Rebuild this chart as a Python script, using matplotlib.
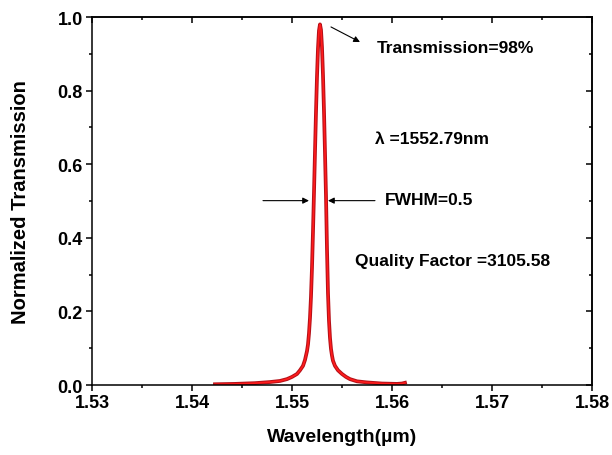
import numpy as np
import matplotlib
matplotlib.use('Agg')
import matplotlib.pyplot as plt
from matplotlib.ticker import MultipleLocator, FormatStrFormatter

plt.rcParams['font.family'] = ['Liberation Sans', 'DejaVu Sans']
plt.rcParams['font.weight'] = 'bold'

# transmission spectrum of the resonator (wavelength in um)
wavelength = [1.5423, 1.5443, 1.5463, 1.5478, 1.5488, 1.5495, 1.5500, 1.5505,
              1.5508, 1.5511, 1.5513, 1.5515, 1.5516, 1.5517, 1.5518, 1.5519,
              1.5520, 1.5521, 1.5522, 1.5523, 1.5524, 1.5525, 1.5526, 1.5527,
              1.5528, 1.5529, 1.5530, 1.5531, 1.5532, 1.5533, 1.5534, 1.5535,
              1.5536, 1.5537, 1.5538, 1.5539, 1.5540, 1.5541, 1.5543, 1.5546,
              1.5550, 1.5554, 1.5558, 1.5565, 1.5575, 1.5590, 1.5605, 1.5610,
              1.5613]
transmission = [0.002, 0.003, 0.005, 0.008, 0.011, 0.016, 0.022, 0.030,
                0.040, 0.052, 0.068, 0.092, 0.110, 0.140, 0.182, 0.240,
                0.318, 0.416, 0.522, 0.633, 0.741, 0.837, 0.914, 0.963,
                0.980, 0.965, 0.918, 0.842, 0.745, 0.632, 0.515, 0.370,
                0.250, 0.175, 0.128, 0.098, 0.080, 0.066, 0.052, 0.040,
                0.030, 0.022, 0.016, 0.010, 0.007, 0.004, 0.003, 0.004,
                0.006]

peak_wl_nm = 1552.79
peak_T = 0.98
fwhm_nm = 0.5
q_factor = 3105.58

fig = plt.figure(figsize=[6.12, 4.56], dpi=100)
ax = fig.add_axes([0.1503, 0.1535, 0.817, 0.807])

ax.plot(wavelength, transmission, color='#b51018', lw=2.7, solid_joinstyle='round')
ax.plot(wavelength, transmission, color='#ff1c1c', lw=1.2, solid_joinstyle='round')

ax.set_xlim(1.53, 1.58)
ax.set_ylim(0.0, 1.0)
ax.xaxis.set_major_locator(MultipleLocator(0.01))
ax.xaxis.set_minor_locator(MultipleLocator(0.005))
ax.yaxis.set_major_locator(MultipleLocator(0.2))
ax.yaxis.set_minor_locator(MultipleLocator(0.1))
ax.xaxis.set_major_formatter(FormatStrFormatter('%.2f'))
ax.yaxis.set_major_formatter(FormatStrFormatter('%.1f'))

for s in ax.spines.values():
    s.set_linewidth(1.1)
ax.tick_params(which='major', direction='out', length=4.5, width=1.1,
               labelsize=13, top=False, right=False, pad=2)
ax.tick_params(which='minor', direction='out', length=2.5, width=1.1,
               top=False, right=False)

# mirrored ticks pointing inwards on top and right
top = ax.secondary_xaxis('top')
top.xaxis.set_major_locator(MultipleLocator(0.01))
top.xaxis.set_minor_locator(MultipleLocator(0.005))
top.tick_params(which='major', direction='in', length=4.5, width=1.1, labeltop=False)
top.tick_params(which='minor', direction='in', length=2.5, width=1.1)
top.spines['top'].set_linewidth(1.1)
right = ax.secondary_yaxis('right')
right.yaxis.set_major_locator(MultipleLocator(0.2))
right.yaxis.set_minor_locator(MultipleLocator(0.1))
right.tick_params(which='major', direction='in', length=4.5, width=1.1, labelright=False)
right.tick_params(which='minor', direction='in', length=2.5, width=1.1)
right.spines['right'].set_linewidth(1.1)

ax.set_xlabel('Wavelength(\u00b5m)', fontsize=14, fontweight='bold', labelpad=12)
ax.set_ylabel('Normalized Transmission', fontsize=14.5, fontweight='bold', labelpad=20)

arrow = dict(arrowstyle='-|>', color='k', lw=0.8, mutation_scale=9, shrinkA=0, shrinkB=0)
ax.annotate('', xy=(1.5568, 0.932), xytext=(1.5539, 0.973), arrowprops=arrow)
ax.text(1.5585, 0.918, 'Transmission=%d%%' % round(peak_T * 100), fontsize=12.5,
        fontweight='bold', va='center')
ax.text(1.5583, 0.671, '\u03bb =%.2fnm' % peak_wl_nm, fontsize=12.5,
        fontweight='bold', va='center')
ax.annotate('', xy=(1.5517, 0.501), xytext=(1.5471, 0.501), arrowprops=arrow)
ax.annotate('', xy=(1.5536, 0.501), xytext=(1.5583, 0.501), arrowprops=arrow)
ax.text(1.5593, 0.505, 'FWHM=%.1f' % fwhm_nm, fontsize=12.5, fontweight='bold', va='center')
ax.text(1.5563, 0.337, 'Quality Factor =%.2f' % q_factor, fontsize=12.5,
        fontweight='bold', va='center')

plt.savefig('out.png', dpi=100)
